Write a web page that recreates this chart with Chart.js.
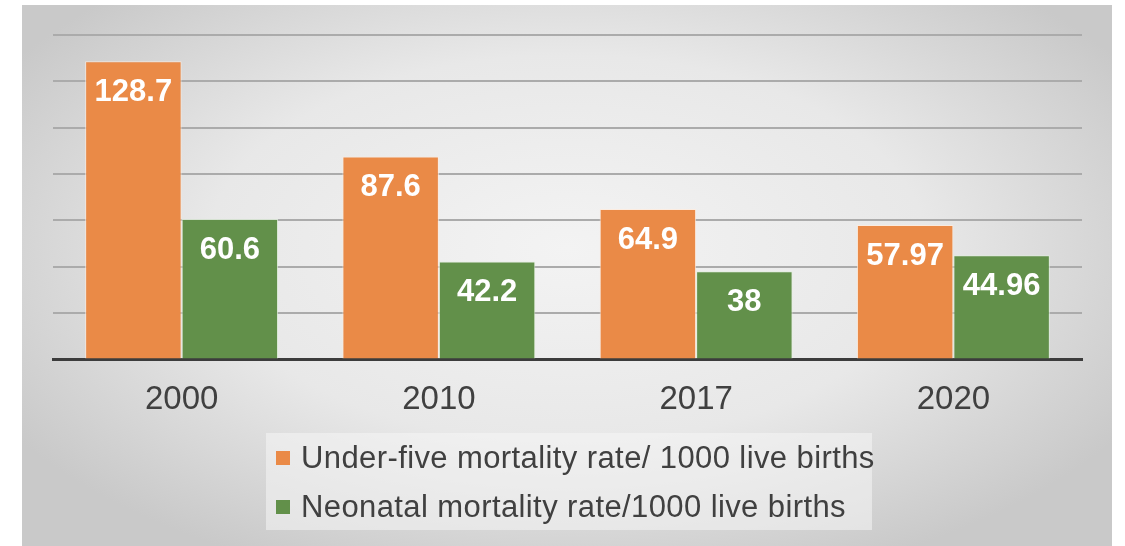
<!DOCTYPE html>
<html>
<head>
<meta charset="utf-8">
<script src="https://cdn.jsdelivr.net/npm/chart.js@4.4.1/dist/chart.umd.min.js"></script>
<style>
    body { margin: 0; background: #ffffff; width: 1125px; height: 546px; overflow: hidden; }
    #marco {
        position: absolute; left: 22px; top: 5px; width: 1090px; height: 541px;
        background: radial-gradient(ellipse 60% 65% at 50% 45%, #f3f3f3 0%, #e8e8e8 55%, #c9c9c9 100%);
    }
    #lienzo { position: absolute; left: 0; top: 0; }
    #leyenda {
        position: absolute; left: 244px; top: 428px; width: 606px; height: 97px;
        background: rgba(246,246,246,0.55);
        font-family: "Liberation Sans", Arial, sans-serif; font-size: 31px; line-height: 31px;
        letter-spacing: 0.4px; color: #404040;
    }
    .item { position: absolute; left: 10px; height: 31px; display: flex; align-items: center; white-space: nowrap; }
    .caja { width: 14px; height: 14px; margin-right: 11px; }
</style>
</head>
<body>
<div id="marco">
    <canvas id="lienzo" width="1090" height="440"></canvas>
    <div id="leyenda"></div>
</div>
<script>
// Datos del gráfico
const anios = ['2000', '2010', '2017', '2020'];
const menoresCinco = [128.7, 87.6, 64.9, 57.97];
const neonatal = [60.6, 42.2, 38, 44.96];
const nombresSeries = ['Under-five mortality rate/ 1000 live births', 'Neonatal mortality rate/1000 live births'];
const coloresSeries = ['#EA8A47', '#62904A'];

// Etiquetas de valor dentro de las barras
const etiquetasBarras = {
    id: 'etiquetasBarras',
    afterDatasetsDraw(chart) {
        const ctx = chart.ctx;
        ctx.save();
        ctx.font = 'bold 31px "Liberation Sans", Arial, sans-serif';
        ctx.fillStyle = '#ffffff';
        ctx.textAlign = 'center';
        ctx.textBaseline = 'middle';
        chart.data.datasets.forEach((ds, i) => {
            chart.getDatasetMeta(i).data.forEach((barra, j) => {
                ctx.fillText(String(ds.data[j]), barra.x, barra.y + 31);
            });
        });
        ctx.restore();
    }
};

function crearGrafico() {
    const ctx = document.getElementById('lienzo').getContext('2d');
    new Chart(ctx, {
        type: 'bar',
        data: {
            labels: anios,
            datasets: [
                { label: nombresSeries[0], data: menoresCinco, backgroundColor: coloresSeries[0], borderColor: 'rgba(255,235,220,0.8)', borderWidth: 1 },
                { label: nombresSeries[1], data: neonatal, backgroundColor: coloresSeries[1], borderColor: 'rgba(225,240,220,0.8)', borderWidth: 1 }
            ]
        },
        options: {
            responsive: false,
            animation: false,
            categoryPercentage: 0.75,
            barPercentage: 1.0,
            layout: { padding: { left: 31, right: 30, top: 30, bottom: 12 } },
            plugins: {
                legend: { display: false },
                tooltip: { enabled: false }
            },
            scales: {
                x: {
                    grid: { display: false },
                    border: { color: '#3c3c3c', width: 3 },
                    ticks: {
                        color: '#404040',
                        padding: 13,
                        font: { family: '"Liberation Sans", Arial, sans-serif', size: 33 }
                    }
                },
                y: {
                    min: 0,
                    max: 140,
                    ticks: { stepSize: 20, display: false },
                    grid: { color: '#ababab', lineWidth: 2, drawTicks: false },
                    border: { display: false }
                }
            }
        },
        plugins: [etiquetasBarras]
    });
}

function crearLeyenda() {
    const caja = document.getElementById('leyenda');
    caja.innerHTML = nombresSeries.map((nombre, i) => `
        <div class="item" style="top:${i === 0 ? 9 : 58}px">
            <span class="caja" style="background:${coloresSeries[i]}"></span>${nombre}
        </div>
    `).join('');
}

crearGrafico();
crearLeyenda();
</script>
</body>
</html>
